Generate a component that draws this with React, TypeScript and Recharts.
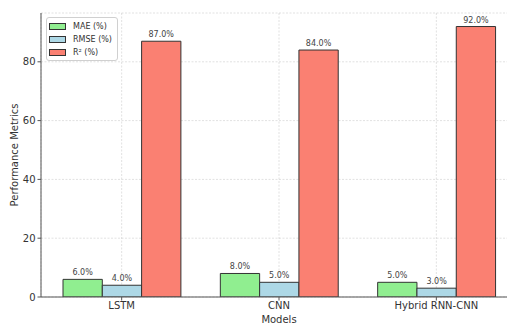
import React from 'react';
import { BarChart, Bar, XAxis, YAxis, CartesianGrid, Legend, LabelList } from 'recharts';

const models = ['LSTM', 'CNN', 'Hybrid RNN-CNN'];
const maeValues = [6, 8, 5];
const rmseValues = [4, 5, 3];
const r2Values = [87, 84, 92];
const yTicks = [0, 20, 40, 60, 80];

const data = models.map((m, i) => ({ model: m, mae: maeValues[i], rmse: rmseValues[i], r2: r2Values[i] }));

const FONT = 'DejaVu Sans';
const fmt = (v: any) => `${Number(v).toFixed(1)}%`;

const renderLegend = (props: any) => {
  const payload = props.payload || [];
  return (
    <div style={{ border: '1px solid #d0d0d0', borderRadius: 3, background: 'rgba(255,255,255,0.85)', padding: '2px 4px 1px 2px', fontFamily: FONT, fontSize: 8, color: '#333' }}>
      {payload.map((p: any, i: number) => (
        <div key={i} style={{ display: 'flex', alignItems: 'center', height: 13 }}>
          <span style={{ display: 'inline-block', width: 15, height: 5, background: p.color, border: '1px solid #333', marginRight: 7 }} />
          <span>{p.value}</span>
        </div>
      ))}
    </div>
  );
};

const YLabel = (props: any) => {
  const vb = props.viewBox || {};
  const cy = vb.y + vb.height / 2;
  return (
    <text x={14} y={cy} transform={`rotate(-90, 14, ${cy})`} textAnchor="middle" dominantBaseline="central" fontFamily={FONT} fontSize={10} fill="#333">
      Performance Metrics
    </text>
  );
};

export default function App() {
  return (
    <div style={{ position: 'absolute', left: 0, top: 0, width: 507, height: 324, overflow: 'hidden', background: '#fff' }}>
      <BarChart width={517} height={324} data={data} margin={{ top: 13, right: 0, left: 0, bottom: 0 }} barGap={0} barSize={39.3}>
        <XAxis
          dataKey="model"
          height={27}
          padding={{ left: 2, right: 2 }}
          tickSize={3.5}
          tickMargin={1}
          tick={{ fontFamily: FONT, fontSize: 10, fill: '#333' }}
          axisLine={{ stroke: '#555', strokeWidth: 1 }}
          tickLine={{ stroke: '#555' }}
          label={{ value: 'Models', position: 'insideBottom', offset: 1, style: { fontFamily: FONT, fontSize: 10, fill: '#333' } }}
        />
        <YAxis
          width={41}
          domain={[0, 96.6]}
          ticks={yTicks}
          tickSize={3.5}
          tickMargin={2}
          tick={{ fontFamily: FONT, fontSize: 10, fill: '#333' }}
          axisLine={{ stroke: '#555', strokeWidth: 1 }}
          tickLine={{ stroke: '#555' }}
          allowDataOverflow
          label={<YLabel />}
        />
        <Legend
          content={renderLegend}
          layout="horizontal"
          verticalAlign="middle"
          align="center"
          wrapperStyle={{ position: 'absolute', left: 46, top: 17, width: 72, height: 'auto' }}
        />
        <Bar dataKey="mae" name="MAE (%)" fill="#90EE90" stroke="#333" strokeWidth={1} isAnimationActive={false}>
          <LabelList dataKey="mae" position="top" offset={4} formatter={fmt} style={{ fontFamily: FONT, fontSize: 8, fill: '#444' }} />
        </Bar>
        <Bar dataKey="rmse" name="RMSE (%)" fill="#ADD8E6" stroke="#333" strokeWidth={1} isAnimationActive={false}>
          <LabelList dataKey="rmse" position="top" offset={4} formatter={fmt} style={{ fontFamily: FONT, fontSize: 8, fill: '#444' }} />
        </Bar>
        <Bar dataKey="r2" name="R² (%)" fill="#FA8072" stroke="#333" strokeWidth={1} isAnimationActive={false}>
          <LabelList dataKey="r2" position="top" offset={4} formatter={fmt} style={{ fontFamily: FONT, fontSize: 8, fill: '#444' }} />
        </Bar>
        <CartesianGrid stroke="rgba(170,170,170,0.45)" strokeDasharray="2 1.5" strokeWidth={0.8} vertical={true} horizontal={true} />
      </BarChart>
    </div>
  );
}
